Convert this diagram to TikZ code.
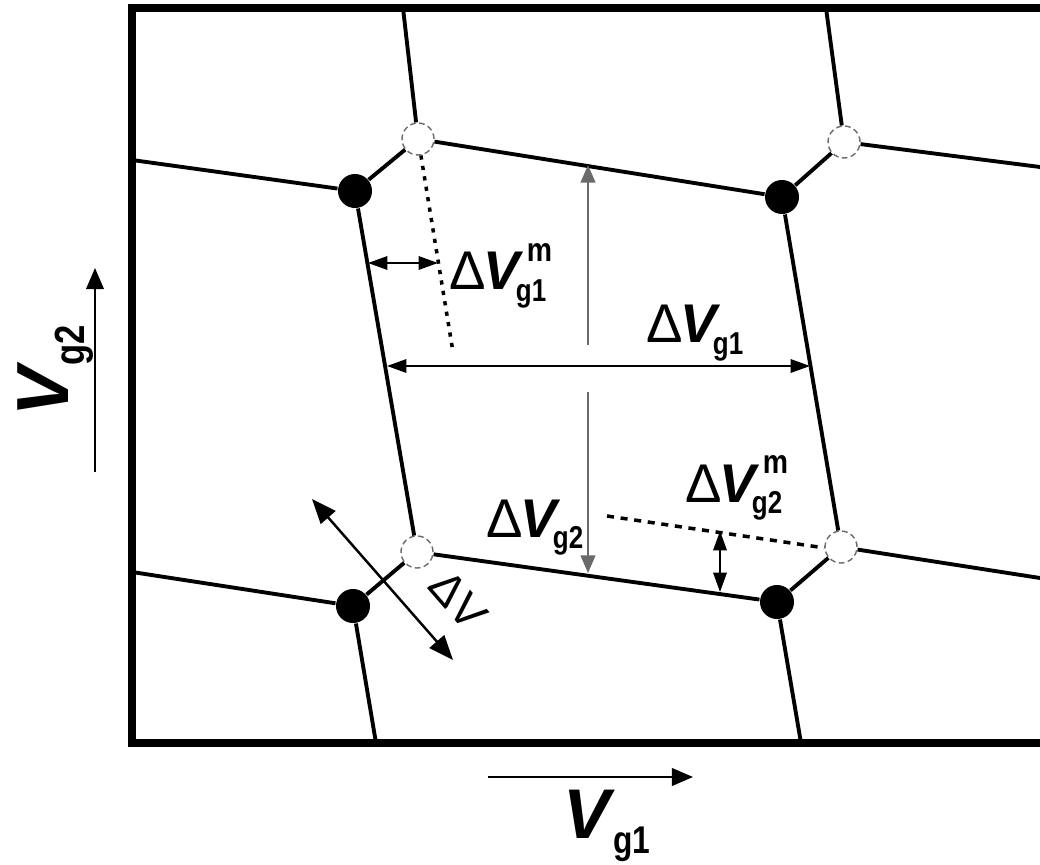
\documentclass[tikz,border=0pt]{standalone}
\usepackage{graphicx}
\usepackage{fontspec}
\setmainfont{Liberation Sans}
\usetikzlibrary{arrows.meta}
\definecolor{gris}{HTML}{6A6A6A}
\newcommand{\gsb}[2][9]{\kern-.15em\raisebox{-.22em}{\scalebox{.82}[1]{\fontsize{#1}{#1}\selectfont\bfseries g#2}}}
\newcommand{\gsbm}[1]{\rlap{\kern.05em\raisebox{.52em}{\scalebox{.85}[1]{\fontsize{9.5}{9.5}\selectfont\bfseries m}}}\gsb{#1}}
\newcommand{\dV}{Δ\kern-.04em\textbf{\textit{V}}}
\tikzset{lleno/.style={circle,fill=black,minimum size=3.4mm,inner sep=0},
         hueco/.style={circle,draw=gris,fill=white,line width=.4pt,dash pattern=on 1.6pt off 1pt,minimum size=3.2mm,inner sep=0},
         linea/.style={line width=1.1pt},
         flecha/.style={line width=.6pt,{Triangle[length=5.5pt,width=3.8pt]}-{Triangle[length=5.5pt,width=3.8pt]}},
         et/.style={font=\fontsize{15.5}{18}\selectfont,anchor=base west,inner sep=0}}

\begin{document}
\begin{tikzpicture}[x=0.01cm,y=-0.01cm]
  \useasboundingbox (0,0) rectangle (1040,864);
  \draw[line width=2pt] (1050,8) -- (132,8) -- (132,743) -- (1050,743);
  \coordinate (t1) at (403,8);   \coordinate (t2) at (826,8);
  \coordinate (l1) at (132,160); \coordinate (l2) at (132,572);
  \coordinate (r1) at (1040,167);\coordinate (r2) at (1040,578);
  \coordinate (b1) at (376,743); \coordinate (b2) at (801,743);
  \node[lleno] (a) at (355,191) {};
  \node[hueco] (A) at (418,139) {};
  \node[lleno] (b) at (782,197) {};
  \node[hueco] (B) at (844,142) {};
  \node[lleno] (c) at (353,606) {};
  \node[hueco] (C) at (417,552) {};
  \node[lleno] (d) at (777,602) {};
  \node[hueco] (D) at (841,547) {};
  \draw[linea] (A)--(t1) (A)--(a) (a)--(l1) (A)--(b) (b)--(B) (B)--(t2) (B)--(r1)
               (a)--(C) (b)--(D) (C)--(d) (C)--(c) (c)--(l2) (c)--(b1) (d)--(b2)
               (d)--(D) (D)--(r2);
  % medidas
  \coordinate (v1) at (588,165); \coordinate (v2) at (588,345);
  \coordinate (v3) at (588,392); \coordinate (v4) at (588,573);
  \draw[gris,line width=.45pt,-{Triangle[length=5pt,width=4.2pt]}] (v2) -- (v1);
  \draw[gris,line width=.45pt,-{Triangle[length=5pt,width=4.2pt]}] (v3) -- (v4);
  \coordinate (h1) at (387,366); \coordinate (h2) at (810,366);
  \draw[flecha] (h1) -- (h2);
  \coordinate (m2) at (453,352);
  \draw[line width=1pt,dash pattern=on 1.2pt off 1.8pt] (A.-80) -- (m2);
  \coordinate (s1) at (368,263); \coordinate (s2) at (438,263);
  \draw[flecha] (s1) -- (s2);
  \coordinate (n1) at (607,516);
  \draw[line width=1pt,dash pattern=on 2pt off 1.9pt] (n1) -- (D.183);
  \coordinate (k1) at (720,531); \coordinate (k2) at (720,592);
  \draw[flecha] (k1) -- (k2);
  \coordinate (e1) at (312,499); \coordinate (e2) at (453,660);
  \draw[line width=.7pt,{Triangle[length=7pt,width=5.5pt]}-{Triangle[length=7pt,width=5.5pt]}] (e1) -- (e2);
  \node[font=\fontsize{13}{14}\selectfont,rotate=-49,inner sep=0] (ldv) at (458,600) {ΔV};
  % ejes
  \coordinate (y1) at (95,472); \coordinate (y2) at (95,268);
  \coordinate (x1) at (488,777); \coordinate (x2) at (693,777);
  \draw[line width=.6pt,-{Triangle[length=6pt,width=5pt]}] (y1) -- (y2);
  \draw[line width=.6pt,-{Triangle[length=6pt,width=5pt]}] (x1) -- (x2);
  \node[et,font=\fontsize{20}{22}\selectfont] (lx) at (563,838) {\textbf{\textit{V}}\kern.12em\gsb[11]{1}};
  \node[et,font=\fontsize{21}{22}\selectfont,rotate=90] (ly) at (68,417) {\textbf{\textit{V}}\kern.1em\gsb[12]{2}};
  % rotulos
  \node[et] (lg1m) at (449,290) {\dV\gsbm{1}};
  \node[et] (lg1) at (646,343) {\dV\gsb{1}};
  \node[et] (lg2) at (486,537) {\dV\gsb{2}};
  \node[et] (lg2m) at (685,502) {\dV\gsbm{2}};
\end{tikzpicture}
\end{document}
